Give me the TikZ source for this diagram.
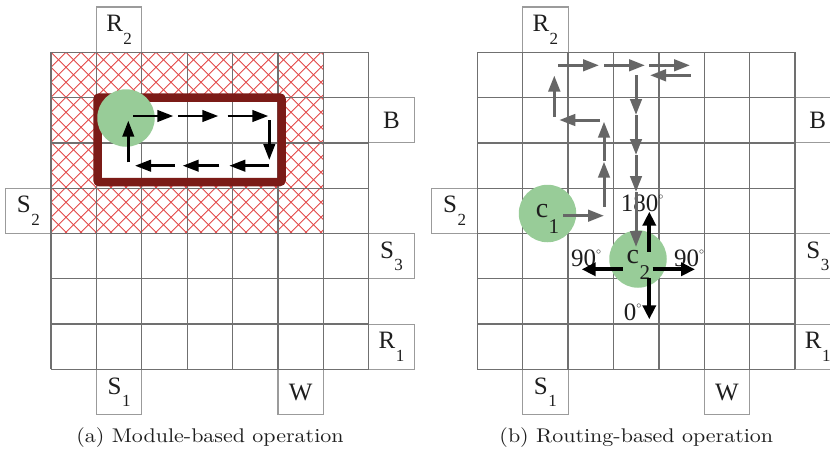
\documentclass[tikz,border=0pt]{standalone}
\usepackage{fontspec}
\newfontfamily\lblfont{Liberation Serif}
\usetikzlibrary{arrows.meta}

\definecolor{gridgray}{RGB}{112,112,112}
\definecolor{boxgray}{RGB}{155,155,155}
\definecolor{hatchred}{RGB}{226,72,72}
\definecolor{modred}{RGB}{123,27,23}
\definecolor{dropgreen}{RGB}{152,204,152}
\definecolor{pathgray}{RGB}{102,102,102}
\definecolor{inkdark}{RGB}{30,30,30}

% subscripts set well below the baseline, as in the cell labels
\newcommand\portsub[1]{\kern0.5pt\raisebox{-0.5em}{\fontsize{17}{17}\selectfont #1}}
\newcommand\dropsub[1]{\kern0.5pt\raisebox{-0.57em}{\fontsize{21}{21}\selectfont #1}}
\newcommand\degmark{\raisebox{0.5em}{\fontsize{10}{10}\selectfont$\circ$}}
% sub-captions use the 10pt design, enlarged
\newcommand\captext[1]{\scalebox{2.2}[1.98]{\fontsize{10}{12}\selectfont #1}}

\begin{document}
\begin{tikzpicture}[x=1pt,y=-1pt,
  gridline/.style={draw=gridgray,line width=1.3pt},
  hatch/.style={draw=hatchred,line width=0.85pt},
  port/.style={draw=boxgray,line width=1.1pt,minimum width=45.4pt,minimum height=45.3pt,
    inner sep=0pt,font=\lblfont\fontsize{25}{25}\selectfont,text=inkdark},
  drop/.style={circle,fill=dropgreen,minimum size=57.5pt,inner sep=0pt},
  droplbl/.style={inner sep=0pt,font=\lblfont\fontsize{28}{28}\selectfont,text=inkdark},
  anglbl/.style={inner sep=0pt,font=\lblfont\fontsize{25}{25}\selectfont,text=inkdark},
  caption/.style={inner sep=0pt,text=inkdark},
  modarrow/.style={line width=2.6pt,-{Triangle[length=16pt,width=11.5pt]}},
  routearrow/.style={draw=pathgray,line width=3pt,-{Triangle[length=16pt,width=11.5pt]}},
  turnarrow/.style={line width=4pt,-{Triangle[length=14pt,width=13pt]}}]

\useasboundingbox (0,0) rectangle (830,450);
\clip (0,0) rectangle (830,450);

% cross-hatched cells around the module
\begin{scope}
  \clip (51,52.3) rectangle (323.4,233.5);
  \foreach \k in {-13,...,19} \draw[hatch] (51+\k*15,52.3) -- ++(190,190);
  \foreach \k in {0,...,32} \draw[hatch] (51+\k*15,52.3) -- ++(-190,190);
\end{scope}
\fill[white] (97.5,97.5) rectangle (281.5,182);

% ports around each array
\foreach \ox/\p in {51/a,477.3/b}{
  \node[port] (R2\p) at (\ox+68.1,29.65) {R\portsub{2}};
  \node[port] (B\p)  at (\ox+340.5,120.25) {B};
  \node[port] (S2\p) at (\ox-22.7,210.85) {S\portsub{2}};
  \node[port] (S3\p) at (\ox+340.5,256.15) {S\portsub{3}};
  \node[port] (R1\p) at (\ox+340.5,346.75) {R\portsub{1}};
  \node[port] (S1\p) at (\ox+68.1,392.05) {S\portsub{1}};
  \node[port] (W\p)  at (\ox+249.7,392.05) {W};
}

% 7x7 electrode arrays
\foreach \ox in {51,477.3}{
  \foreach \i in {0,...,7} \draw[gridline] (\ox+\i*45.4,52.3) -- (\ox+\i*45.4,369.4);
  \foreach \j in {0,...,7} \draw[gridline] (\ox,52.3+\j*45.3) -- (\ox+317.8,52.3+\j*45.3);
}

% (a) mixing module with the droplet circling inside it
\draw[modred,line width=8.5pt,rounded corners=2pt] (97.5,97.5) rectangle (281.5,182);
\node[drop] (d0) at (126,118) {};
\draw[modarrow] (133.3,116) -- (173.3,116);
\draw[modarrow] (178.3,116) -- (218.3,116);
\draw[modarrow] (227.7,116) -- (268.3,116);
\draw[modarrow] (269.3,120) -- (269.3,160);
\draw[modarrow] (269.3,165.7) -- (229.3,165.7);
\draw[modarrow] (219.3,165.7) -- (182.7,165.7);
\draw[modarrow] (175,165.7) -- (135,165.7);
\draw[modarrow] (128.3,162.3) -- (128.3,120.7);

% (b) two droplets and the route of c1
\node[drop] (c1) at (547.5,213.5) {};
\node[drop] (c2) at (638,259) {};
\node[droplbl,anchor=base] (c1t) at (547.5,217.3) {c\dropsub{1}};
\node[droplbl,anchor=base] (c2t) at (638.3,263.3) {c\dropsub{2}};

\node[anglbl,anchor=base] (a180) at (642,211.7) {180\degmark};
\node[anglbl,anchor=base] (a90l) at (586,266.7) {90\degmark};
\node[anglbl,anchor=base] (a90r) at (689,266.7) {90\degmark};
\node[anglbl,anchor=base] (a0)   at (632.5,320.7) {0\degmark};

\draw[routearrow] (563.3,215.7) -- (604,215.7);
\draw[routearrow] (604,206.7) -- (604,161.7);
\draw[routearrow] (604,161) -- (604,121.7);
\draw[routearrow] (600,120) -- (559.3,120);
\draw[routearrow] (554.3,116.7) -- (554.3,75.5);
\draw[routearrow] (558.3,65.3) -- (599,65.3);
\draw[routearrow] (604,65.3) -- (645,65.3);
\draw[routearrow] (649.3,65.3) -- (690,65.3);
\draw[routearrow] (690.7,75.3) -- (650,75.3);
\draw[routearrow] (636,75.3) -- (636,115);
\draw[routearrow] (636,115) -- (636,155);
\draw[routearrow] (636,155) -- (636,192);
\draw[routearrow] (636,192) -- (636,247);

\draw[turnarrow] (649.3,251.7) -- (649.3,211.7);
\draw[turnarrow] (622.7,269.3) -- (581.7,269.3);
\draw[turnarrow] (652.7,269.3) -- (695,269.3);
\draw[turnarrow] (649.3,278.3) -- (649.3,319.3);

% sub-captions
\node[caption,anchor=base] (capa) at (210,442.7) {\captext{(a) Module-based operation}};
\node[caption,anchor=base] (capb) at (636.3,442.7) {\captext{(b) Routing-based operation}};
\end{tikzpicture}
\end{document}
